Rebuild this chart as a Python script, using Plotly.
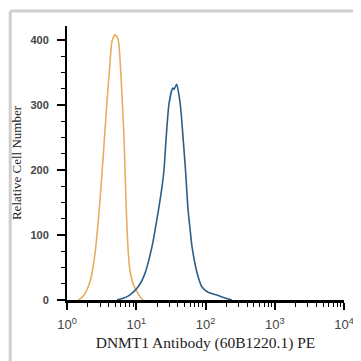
import plotly.graph_objects as go

# isotype control (orange) - intensity vs count
ctrl_x = [1.442, 1.647, 1.881, 2.149, 2.374, 2.623, 2.898, 3.202, 3.479, 3.781, 4.110, 4.466,
          4.933, 5.451, 5.825, 6.330, 6.655, 6.878, 7.231, 7.602, 8.122, 8.976, 10.08, 11.33, 12.52]
ctrl_y = [0, 4, 13, 28, 50, 85, 135, 195, 250, 305, 355, 398,
          408, 402, 370, 300, 250, 200, 130, 80, 45, 25, 14, 5, 0]

# DNMT1 stained (blue)
dnmt1_x = [5.272, 6.655, 8.122, 10.60, 13.38, 16.88, 20.61, 23.54, 25.16, 26.89, 29.72, 33.61,
           35.09, 38.38, 41.42, 44.29, 47.32, 51.43, 55.88, 59.74, 63.85, 75.40, 89.03, 108.7,
           146.6, 191.2, 241.4]
dnmt1_y = [0, 3, 8, 20, 41, 82, 134, 174, 200, 246, 302, 326,
           324, 332, 315, 290, 251, 200, 140, 110, 82, 42, 20, 12,
           7.7, 3, 0]

x_tickvals = [1, 10, 100, 1000, 10000]
x_ticktext = ['10<sup>0</sup>', '10<sup>1</sup>', '10<sup>2</sup>', '10<sup>3</sup>', '10<sup>4</sup>']
y_tickvals = [0, 100, 200, 300, 400]

fig = go.Figure()
fig.add_trace(go.Scatter(x=ctrl_x, y=ctrl_y, mode='lines',
                         line=dict(color='#E6AE5E', width=1.6, shape='spline', smoothing=0.6)))
fig.add_trace(go.Scatter(x=dnmt1_x, y=dnmt1_y, mode='lines',
                         line=dict(color='#2C5F88', width=1.6, shape='spline', smoothing=0.6)))

fig.update_xaxes(type='log', range=[0, 4], tickmode='array', tickvals=x_tickvals, ticktext=x_ticktext,
                 ticks='outside', ticklen=7, tickwidth=1.5, tickcolor='black', automargin=False,
                 ticklabelstandoff=4,
                 showline=True, linecolor='black', linewidth=2.5, showgrid=False, zeroline=False,
                 minor=dict(ticks='outside', ticklen=4, tickwidth=1, tickcolor='black', showgrid=False,
                            tickvals=[m * 10 ** k for k in range(4) for m in range(2, 10)]),
                 tickfont=dict(family='Liberation Sans', size=13, color='#444'),
                 title=dict(text='DNMT1 Antibody (60B1220.1) PE', standoff=6,
                            font=dict(family='Liberation Serif', size=15.5, color='#222')))
fig.update_yaxes(range=[0, 421.5], tickmode='array', tickvals=y_tickvals, automargin=False,
                 ticks='outside', ticklen=8, tickwidth=1.5, tickcolor='black', ticklabelstandoff=6,
                 showline=True, linecolor='black', linewidth=2, showgrid=False, zeroline=False,
                 minor=dict(ticks='outside', ticklen=4, tickwidth=1, tickcolor='black', dtick=25, showgrid=False),
                 tickfont=dict(family='Liberation Sans', size=11, color='#444', weight='bold'),
                 title=dict(text='Relative Cell Number', standoff=6,
                            font=dict(family='Liberation Serif', size=13, color='#222')))

# page body adds an 8px margin, so the figure is 8px smaller than the window
fig.update_layout(width=353, height=353, margin=dict(l=59, r=17, t=18, b=61),
                  paper_bgcolor='white', plot_bgcolor='white', showlegend=False)
# light frame around the image (left and top edges)
frame = dict(color='#cfcfcf', width=3)
fig.add_shape(type='line', xref='paper', yref='paper', x0=-0.205, x1=-0.205, y0=-0.3, y1=1.0547, line=frame)
fig.add_shape(type='line', xref='paper', yref='paper', x0=-0.205, x1=1.1, y0=1.0547, y1=1.0547, line=frame)

fig.write_html("out.html")
